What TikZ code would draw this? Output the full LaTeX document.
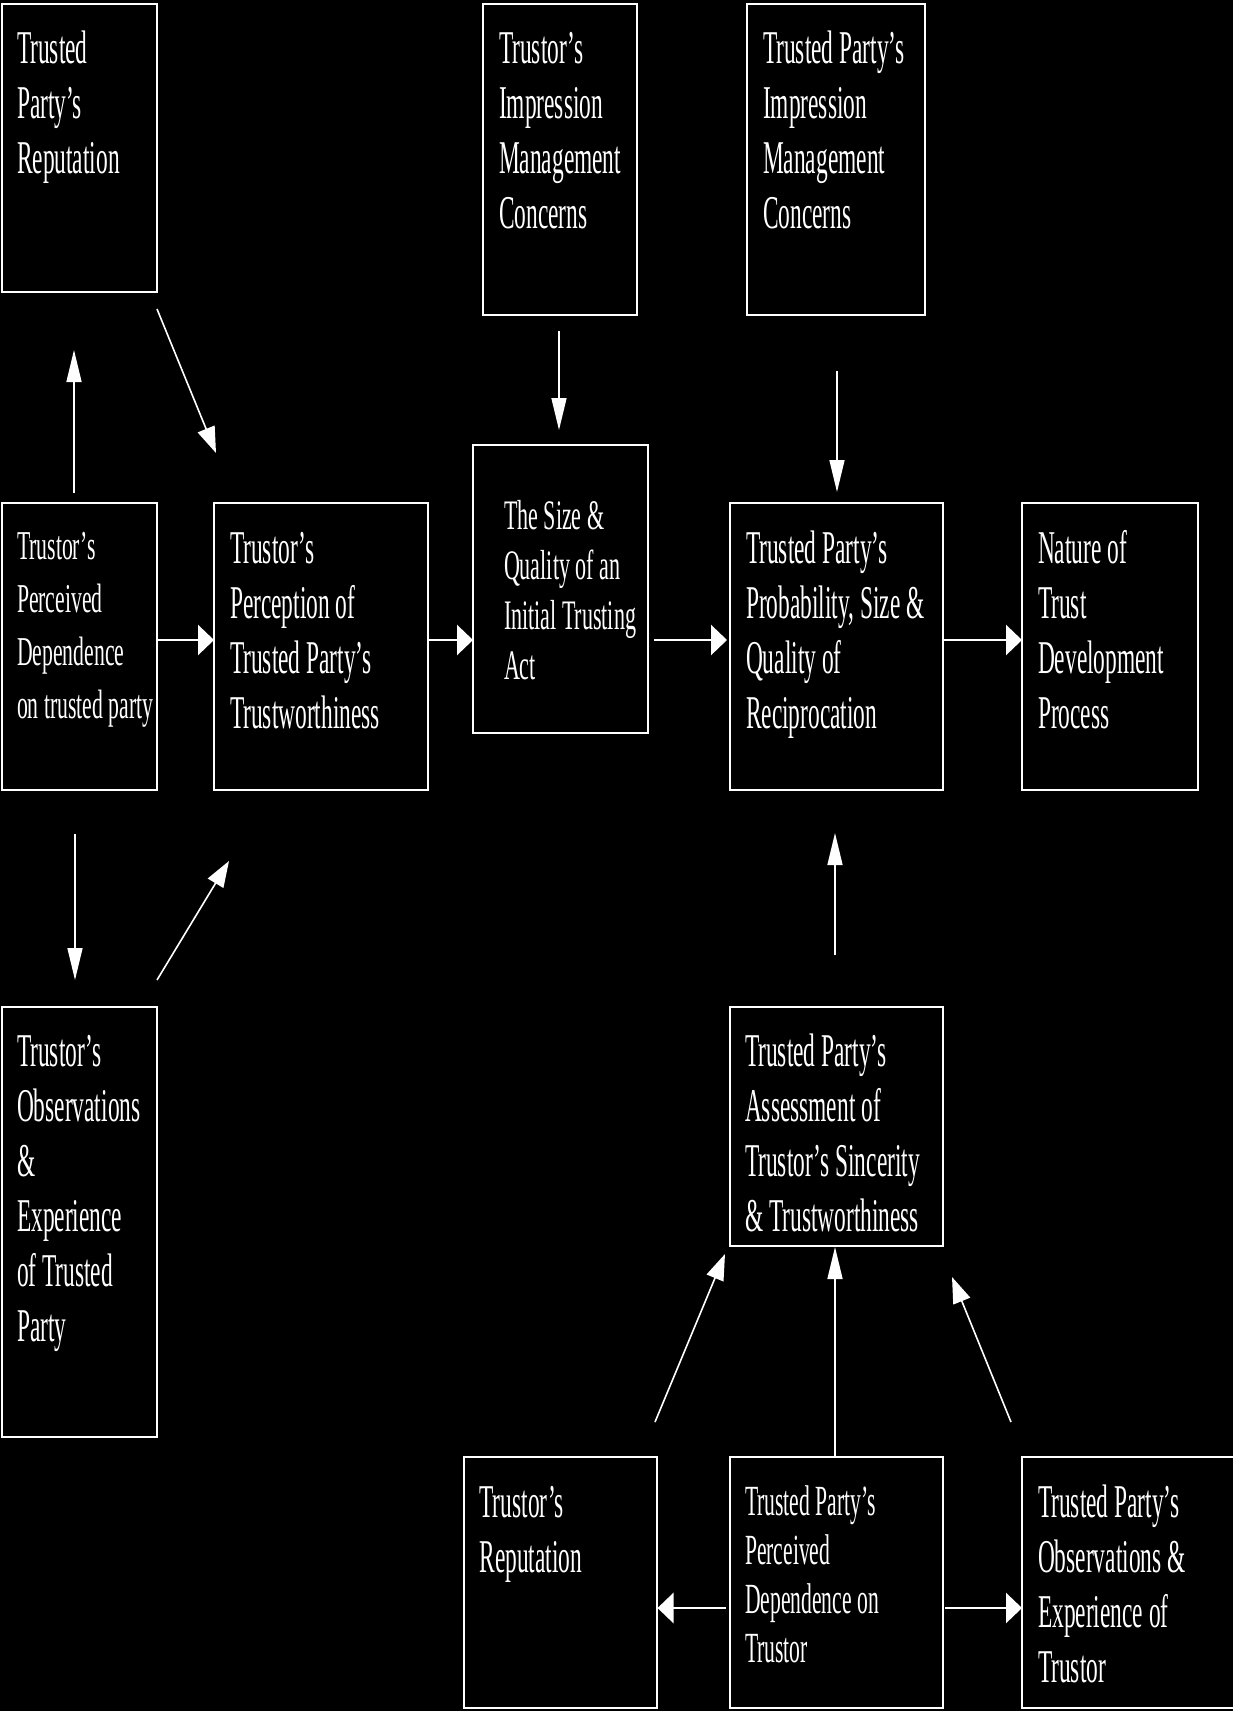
\documentclass[tikz,border=0pt]{standalone}
\usepackage{fontspec}
\newfontfamily\fA[FakeStretch=0.498]{Liberation Serif}
\newfontfamily\fB[FakeStretch=0.53]{Liberation Serif}
\newfontfamily\fC[FakeStretch=0.525]{Liberation Serif}
\newfontfamily\fD[FakeStretch=0.503]{Liberation Serif}
\usetikzlibrary{arrows.meta,calc}
\newcommand\lines[1]{\begin{tabular}[t]{@{}l@{}}#1\end{tabular}}
\begin{document}
\begin{tikzpicture}[x=1pt,y=-1pt,
  box/.style={draw=white, line width=2pt, inner sep=0pt, outer sep=0pt, rectangle},
  lbl/.style={anchor=base west, inner sep=0pt, outer sep=0pt, text=white, font=\fA\fontsize{47}{55}\selectfont},
  lblB/.style={lbl, font=\fB\fontsize{41}{53}\selectfont},
  lblC/.style={lbl, font=\fC\fontsize{42}{50}\selectfont},
  lblD/.style={lbl, font=\fD\fontsize{43}{49}\selectfont},
  varr/.style={draw=white, line width=1.6pt, -{Triangle[length=32pt,width=15pt]}},
  harr/.style={draw=white, line width=2.6pt, -{Triangle[length=16pt,width=30pt]}},
  darr/.style={draw=white, line width=1.6pt, -{Triangle[length=26pt,width=18pt]}}]
\fill[black] (0,0) rectangle (1233,1711);
\useasboundingbox (0,0) rectangle (1233,1711);
\clip (0,0) rectangle (1233,1711);

% boxes
\node[box, minimum width=155pt, minimum height=288pt] (b1) at (79.5,148) {};
\node[box, minimum width=154pt, minimum height=311pt] (b2) at (560,159.5) {};
\node[box, minimum width=178pt, minimum height=311pt] (b3) at (836,159.5) {};
\node[box, minimum width=155pt, minimum height=287pt] (b4) at (79.5,646.5) {};
\node[box, minimum width=214pt, minimum height=287pt] (b5) at (321,646.5) {};
\node[box, minimum width=175pt, minimum height=288pt] (b6) at (560.5,589) {};
\node[box, minimum width=213pt, minimum height=287pt] (b7) at (836.5,646.5) {};
\node[box, minimum width=176pt, minimum height=287pt] (b8) at (1110,646.5) {};
\node[box, minimum width=155pt, minimum height=430pt] (b9) at (79.5,1222) {};
\node[box, minimum width=213pt, minimum height=239pt] (b10) at (836.5,1126.5) {};
\node[box, minimum width=193pt, minimum height=251pt] (b11) at (560.5,1582.5) {};
\node[box, minimum width=213pt, minimum height=251pt] (b12) at (836.5,1582.5) {};
\node[box, minimum width=218pt, minimum height=251pt] (b13) at (1131,1582.5) {};

% texts
\node[lbl] (t1) at (17,63) {\lines{Trusted\\Party’s\\Reputation}};
\node[lbl] (t2) at (499,63) {\lines{Trustor’s\\Impression\\Management\\Concerns}};
\node[lbl] (t3) at (763,63) {\lines{Trusted Party’s\\Impression\\Management\\Concerns}};
\node[lblB] (t4) at (17,559) {\lines{Trustor’s\\Perceived\\Dependence\\on trusted party}};
\node[lbl] (t5) at (230,563) {\lines{Trustor’s\\Perception of\\Trusted Party’s\\Trustworthiness}};
\node[lblC] (t6) at (504,529) {\lines{The Size \&\\Quality of an\\Initial Trusting\\Act}};
\node[lbl] (t7) at (746,563) {\lines{Trusted Party’s\\Probability, Size \&\\Quality of\\Reciprocation}};
\node[lbl] (t8) at (1038,563) {\lines{Nature of\\Trust\\Development\\Process}};
\node[lbl] (t9) at (17,1066) {\lines{Trustor’s\\Observations\\\&\\Experience\\of Trusted\\Party}};
\node[lbl] (t10) at (745,1066) {\lines{Trusted Party’s\\Assessment of\\Trustor’s Sincerity\\\& Trustworthiness}};
\node[lbl] (t11) at (479.5,1517) {\lines{Trustor’s\\Reputation}};
\node[lblD] (t12) at (745,1515) {\lines{Trusted Party’s\\Perceived\\Dependence on\\Trustor}};
\node[lbl] (t13) at (1038,1517) {\lines{Trusted Party’s\\Observations \&\\Experience of\\Trustor}};

% connectors
\draw[varr] ($(b4.north)+(-5.5,-10)$) -- ($(b1.south)+(-5.5,58)$);
\draw[darr] ($(b1.south east)+(0,17)$) -- ($(b5.north west)+(2,-50)$);
\draw[harr] ($(b4.east)+(0,-6.5)$) -- ($(b5.west)+(0,-6.5)$);
\draw[harr] ($(b5.east)+(0,-6.5)$) -- ($(b6.west)+(0,51)$);
\draw[varr] ($(b2.south)+(-1,16)$) -- ($(b6.north)+(-1.5,-15)$);
\draw[harr] ($(b6.east)+(6,51)$) -- ($(b7.west)+(-3,-6.5)$);
\draw[varr] ($(b3.south)+(1,56)$) -- ($(b7.north)+(0.5,-11)$);
\draw[harr] ($(b7.east)+(0,-6.5)$) -- ($(b8.west)+(0,-6.5)$);
\draw[varr] ($(b4.south)+(-4.5,44)$) -- ($(b9.north)+(-4.5,-27)$);
\draw[darr] ($(b9.north east)+(0,-27)$) -- ($(b5.south west)+(15,71)$);
\draw[varr] ($(b10.north)+(-1.5,-52)$) -- ($(b7.south)+(-1.5,43)$);
\draw[varr] ($(b12.north)+(-1.5,0)$) -- ($(b10.south)+(-1.5,1)$);
\draw[darr] ($(b11.north east)+(-2,-35)$) -- ($(b10.south west)+(-5,8)$);
\draw[darr] ($(b13.north west)+(-11,-35)$) -- ($(b10.south east)+(9,31)$);
\draw[harr] ($(b12.west)+(-4,25.5)$) -- ($(b11.east)+(0.5,25.5)$);
\draw[harr] ($(b12.east)+(2,25.5)$) -- ($(b13.west)+(0,25.5)$);
\end{tikzpicture}
\end{document}
